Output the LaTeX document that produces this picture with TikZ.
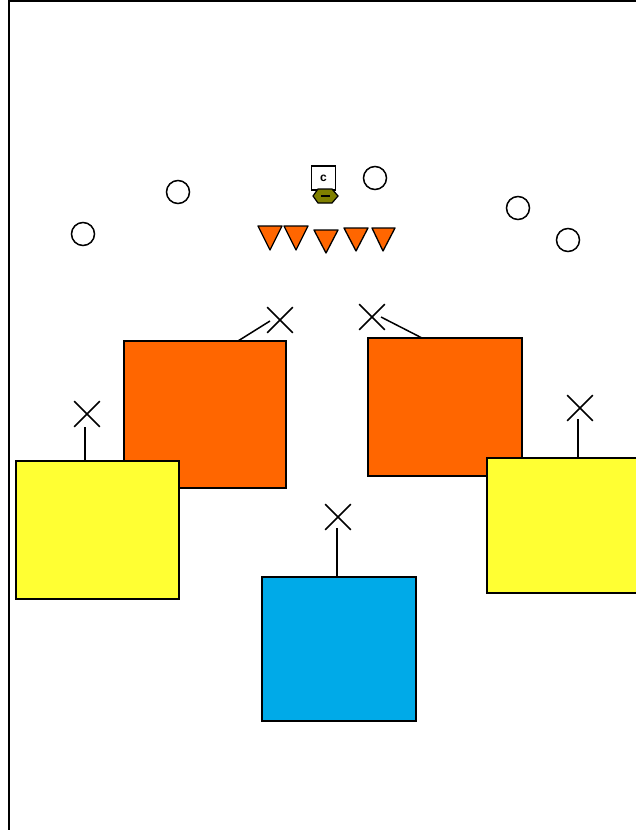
\documentclass[tikz,border=0pt]{standalone}
\usepackage{fontspec}
\setsansfont{Liberation Sans}
\usetikzlibrary{shapes.misc}
\definecolor{orangeA}{HTML}{FF6600}
\definecolor{yellowA}{HTML}{FFFF33}
\definecolor{blueA}{HTML}{00AAE8}
\definecolor{oliveA}{HTML}{808000}
\tikzset{
  box/.style={draw=black, line width=1.5pt, anchor=north west, inner sep=0pt, outer sep=0pt},
  xmark/.style={cross out, draw=black, line width=1.6pt, minimum width=24pt, minimum height=24pt, inner sep=0pt},
  ring/.style={circle, draw=black, line width=1.5pt, minimum size=23pt, inner sep=0pt},
  tri/.style={fill=orangeA, draw=black, line width=1.3pt, line join=round},
  link/.style={draw=black, line width=1.5pt}
}
\begin{document}
\begin{tikzpicture}[x=1pt,y=-1pt]
\clip (0,0) rectangle (636,830);
\fill[white] (0,0) rectangle (636,830);
% frame
\draw[line width=2pt] (9,850) -- (9,1) -- (660,1);
% circles
\node[ring] (c1) at (83,234) {};
\node[ring] (c2) at (178,192) {};
\node[ring] (c3) at (375,178) {};
\node[ring] (c4) at (518,208) {};
\node[ring] (c5) at (568,240) {};
% c box
\node[draw=black, line width=1.2pt, minimum width=24pt, minimum height=24pt, inner sep=0pt, font=\sffamily\bfseries\fontsize{12}{12}\selectfont] (cb) at (323.5,178) {c};
% hexagon
\filldraw[fill=oliveA, draw=black, line width=1.2pt] (313,196) -- (318,189) -- (332,189) -- (338,196) -- (332,203) -- (318,203) -- cycle;
\draw[line width=1.5pt] (321,196) -- (330,196);
% triangles
\filldraw[tri] (258,226) -- (282,226) -- (270,250) -- cycle;
\filldraw[tri] (284,226) -- (308,226) -- (296,250) -- cycle;
\filldraw[tri] (314,230) -- (338,230) -- (326,253) -- cycle;
\filldraw[tri] (344,228) -- (368,228) -- (356,251) -- cycle;
\filldraw[tri] (372,228) -- (395,228) -- (383,251) -- cycle;
% boxes
\node[box, fill=orangeA, minimum width=162pt, minimum height=147pt] (o1) at (124,341) {};
\node[box, fill=orangeA, minimum width=154pt, minimum height=138pt] (o2) at (368,338) {};
\node[box, fill=yellowA, minimum width=163pt, minimum height=138pt] (y1) at (16,461) {};
\node[box, fill=yellowA, minimum width=170pt, minimum height=135pt] (y2) at (487,458) {};
\node[box, fill=blueA, minimum width=154pt, minimum height=144pt] (b1) at (262,577) {};
% x marks
\node[xmark] (x1) at (280,320) {};
\node[xmark] (x2) at (372,317) {};
\node[xmark] (x3) at (87,414) {};
\node[xmark] (x4) at (580,408) {};
\node[xmark] (x5) at (338,517) {};
% connectors
\coordinate (x1s) at (270,321);
\coordinate (o1t) at (238,341);
\draw[link] (x1s) -- (o1t);
\coordinate (x2s) at (381,317);
\coordinate (o2t) at (422,338);
\draw[link] (x2s) -- (o2t);
\coordinate (x3s) at (85,427);
\coordinate (y1t) at (85,461);
\draw[link] (x3s) -- (y1t);
\coordinate (x4s) at (578,419);
\coordinate (y2t) at (578,458);
\draw[link] (x4s) -- (y2t);
\coordinate (x5s) at (337,528);
\coordinate (b1t) at (337,577);
\draw[link] (x5s) -- (b1t);
\end{tikzpicture}
\end{document}
